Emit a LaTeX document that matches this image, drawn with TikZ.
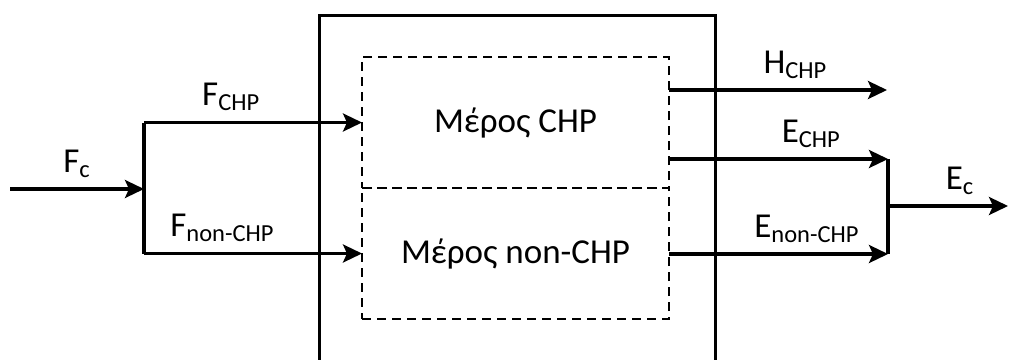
\documentclass[tikz,border=0pt]{standalone}
\usepackage{fontspec}
\setmainfont{Carlito}
\usetikzlibrary{arrows.meta, positioning}

\begin{document}
\begin{tikzpicture}[
    x=0.5pt, y=-0.5pt,
    font=\fontsize{17.5}{20}\selectfont,
    unitbox/.style={rectangle, draw, line width=1.6pt, minimum width=198pt, minimum height=200pt, anchor=north west},
    part/.style={rectangle, draw, dash pattern=on 4.5pt off 3pt, line width=1.4pt, minimum width=153.5pt, minimum height=65.5pt, outer sep=0pt, align=center},
    arrow/.style={-{Stealth[length=9.5pt, width=9pt, inset=2pt]}, line width=1.6pt},
    link/.style={line width=1.6pt},
    lbl/.style={above=4pt, inner sep=1pt}
]
\useasboundingbox (0,0) rectangle (1010,359);

% Plant
\node[unitbox] (unit) at (318,14) {};
\node[part, anchor=north west] (chp) at (362,57) {Μέρος CHP};
\node[part, below=0pt of chp] (nonchp) {Μέρος non-CHP};

% Fuel input
\coordinate (fin) at (10,189);
\coordinate (split) at (144,189);
\draw[arrow] (fin) -- node[lbl] {F\textsubscript{c}} (split);
\draw[link] (split |- chp.west) -- (split |- nonchp.west);
\draw[arrow] (split |- chp.west) -- node[lbl, pos=0.4] {F\textsubscript{CHP}} (chp.west);
\draw[arrow] (split |- nonchp.west) -- node[lbl, pos=0.36] {F\textsubscript{non-CHP}} (nonchp.west);

% Outputs
\coordinate (hend) at (887,90);
\coordinate (eup) at (888,159);
\coordinate (elow) at (888,254);
\coordinate (merge) at (888,206);
\coordinate (eout) at (1008,206);
\draw[arrow] (chp.east |- hend) -- node[lbl, pos=0.58] {H\textsubscript{CHP}} (hend);
\draw[arrow] (chp.east |- eup) -- node[lbl, pos=0.65] {E\textsubscript{CHP}} (eup);
\draw[arrow] (nonchp.east |- elow) -- node[lbl, pos=0.63] {E\textsubscript{non-CHP}} (elow);
\draw[link] (eup) -- (elow);
\draw[arrow] (merge) -- node[lbl, pos=0.6] {E\textsubscript{c}} (eout);

\end{tikzpicture}
\end{document}
